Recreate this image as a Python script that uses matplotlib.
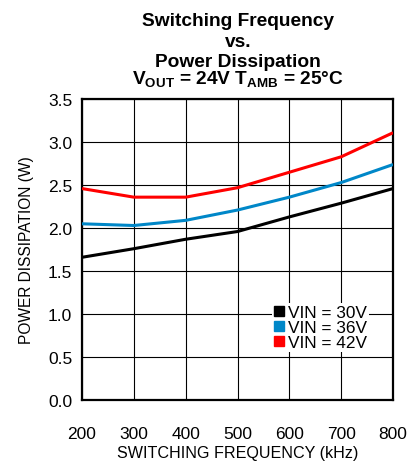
import numpy as np
import matplotlib.pyplot as plt
from matplotlib.lines import Line2D

plt.rcParams['font.family'] = ['Liberation Sans', 'DejaVu Sans']
plt.rcParams['mathtext.fontset'] = 'custom'
plt.rcParams['mathtext.rm'] = 'Liberation Sans:bold'
plt.rcParams['mathtext.bf'] = 'Liberation Sans:bold'

freq_khz = [200, 300, 400, 500, 600, 700, 800]
vin_labels = ['VIN = 30V', 'VIN = 36V', 'VIN = 42V']
pd_30v = [1.66, 1.76, 1.87, 1.96, 2.13, 2.29, 2.46]
pd_36v = [2.05, 2.03, 2.09, 2.21, 2.36, 2.53, 2.74]
pd_42v = [2.46, 2.36, 2.36, 2.47, 2.65, 2.83, 3.11]
colors = ['#000000', '#0087c8', '#ff0000']

fig = plt.figure(figsize=(4.12, 4.64), dpi=100)
ax = fig.add_axes([0.199, 0.136, 0.755, 0.648])

for ys, c in zip([pd_30v, pd_36v, pd_42v], colors):
    ax.plot(freq_khz, ys, color=c, lw=2.2, solid_capstyle='butt', zorder=3)

ax.set_xlim(200, 800)
ax.set_ylim(0, 3.5)
ax.set_xticks(np.arange(200, 801, 100))
ax.set_yticks(np.arange(0, 3.51, 0.5))
ax.set_yticklabels(['%.1f' % v for v in np.arange(0, 3.51, 0.5)])
ax.grid(True, color='black', lw=0.8)
ax.tick_params(length=0, labelsize=12.5)
ax.tick_params(axis='x', pad=19)
ax.tick_params(axis='y', pad=7)
for s in ax.spines.values():
    s.set_linewidth(1.6)

ax.set_xlabel('SWITCHING FREQUENCY (kHz)', fontsize=11.6, labelpad=3)
ax.set_ylabel('POWER DISSIPATION (W)', fontsize=11.2, labelpad=10)

handles = [Line2D([], [], ls='none', marker='s', markersize=6.5, color=c) for c in colors]
leg = ax.legend(handles, vin_labels, loc='upper left', bbox_to_anchor=(0.612, 0.322),
                frameon=True, fontsize=12.4, handlelength=0.6, handletextpad=0.2,
                labelspacing=0.0, borderpad=0.1, borderaxespad=0, fancybox=False)
leg.get_frame().set_edgecolor('none')
leg.get_frame().set_alpha(1)

title_kw = dict(ha='center', va='baseline', fontsize=13.8, fontweight='bold')
xc = 0.578
fig.text(xc, 0.944, 'Switching Frequency', **title_kw)
fig.text(xc, 0.899, 'vs.', **title_kw)
fig.text(xc, 0.856, 'Power Dissipation', **title_kw)
fig.text(xc, 0.817, r'V$_{\mathbf{OUT}}$ = 24V T$_{\mathbf{AMB}}$ = 25°C', **title_kw)

plt.savefig('out.png', dpi=100)
